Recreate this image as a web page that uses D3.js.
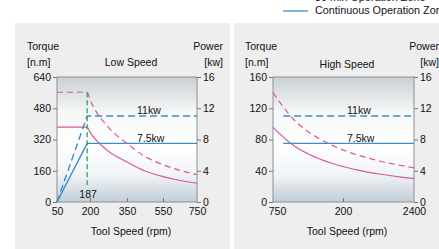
<!DOCTYPE html>
<html><head><meta charset="utf-8">
<script src="https://cdn.jsdelivr.net/npm/d3@7"></script>
<style>
html,body{margin:0;padding:0;background:#fff;overflow:hidden}
text{font-family:"Liberation Sans",Arial,Helvetica,sans-serif;fill:#111}
</style></head><body>
<svg id="c" width="439" height="249"></svg>
<script>
// ---------- data ----------
const lowTorqueTicks = [0,160,320,480,640];
const lowPowerTicks  = [0,4,8,12,16];
const lowSpeedTicks  = [50,200,350,550,750];
const highTorqueTicks = [0,40,80,120,160];
const highPowerTicks  = [0,4,8,12,16];
const highSpeedTicks  = [750,1575,2400];
const highSpeedLabels = ["750","200","2400"];

// Low speed: torque curves (rpm, N.m)
const lowS3Torque   = [[50,562],[187,562],[200,525],[275,382],[350,300],[450,233],[550,191],[650,162],[750,140]];
const lowContTorque = [[50,383],[187,383],[200,358],[275,260],[350,205],[450,159],[550,130],[650,110],[750,96]];
// Low speed: power lines (rpm, kW)
const lowS3Power    = [[50,0],[187,11],[750,11]];
const lowContPower  = [[50,0],[187,7.5],[750,7.5]];
const baseSpeed = 187;
const baseSpeedLineTorque = [562, 87];

// High speed
const highS3Torque   = [[750,140],[1000,105],[1250,84],[1500,70],[1750,60],[2000,52.5],[2250,46.7],[2400,43.8]];
const highContTorque = [[750,95.5],[1000,71.6],[1250,57.3],[1500,47.7],[1750,40.9],[2000,35.8],[2250,31.8],[2400,29.8]];
const highS3Power    = [[870,11],[2400,11]];
const highContPower  = [[870,7.5],[2400,7.5]];

const legendItems = ["30 min Operation Zone","Continuous Operation Zone"];

// ---------- drawing ----------
const PINK="#d9579f", BLUE="#3b8fc6", GREEN="#1f9a55";
const svg = d3.select("#c");
const defs = svg.append("defs");
const grad = defs.append("linearGradient").attr("id","bg").attr("x1",0).attr("y1",0).attr("x2",0).attr("y2",1);
[[0,"#c9d0d4"],[0.28,"#f6f7f7"],[0.55,"#ffffff"],[0.78,"#f1f4f6"],[1,"#c1cdd7"]].forEach(s=>
  grad.append("stop").attr("offset",s[0]).attr("stop-color",s[1]));

// panels
svg.append("rect").attr("x",15).attr("y",23).attr("width",215).attr("height",240).attr("fill","#eeeeee");
svg.append("rect").attr("x",234).attr("y",23).attr("width",215).attr("height",240).attr("fill","#eeeeee");

// legend
const lg = svg.append("g");
lg.append("line").attr("x1",283).attr("x2",308).attr("y1",-2).attr("y2",-2).attr("stroke",PINK).attr("stroke-width",1.3).attr("stroke-dasharray","5,3");
lg.append("text").attr("x",315).attr("y",-2).attr("dominant-baseline","middle").style("font-size","10.8px").text(legendItems[0]);
lg.append("line").attr("x1",283).attr("x2",308).attr("y1",11).attr("y2",11).attr("stroke",BLUE).attr("stroke-width",1.3);
lg.append("text").attr("x",315).attr("y",11).attr("dominant-baseline","middle").style("font-size","10.8px").text(legendItems[1]);

function chart(o){
  const g = svg.append("g");
  const {x0,x1,y0,y1} = o;
  const x = d3.scaleLinear().domain(o.xDomain).range(o.xRange);
  const yT = d3.scaleLinear().domain([0,o.tMax]).range([y1,y0]);
  const yP = d3.scaleLinear().domain([0,16]).range([y1,y0]);
  g.append("rect").attr("x",x0).attr("y",y0).attr("width",x1-x0).attr("height",y1-y0)
    .attr("fill","url(#bg)").attr("stroke","#8a8f94").attr("stroke-width",1);

  const fs="10.5px";
  const ax = g.append("g").attr("transform",`translate(${x0},0)`)
    .call(d3.axisLeft(yT).tickValues(o.tTicks).tickSize(4).tickPadding(2));
  const ap = g.append("g").attr("transform",`translate(${x1},0)`)
    .call(d3.axisRight(yP).tickValues(o.pTicks).tickSize(4).tickPadding(2));
  const ab = g.append("g").attr("transform",`translate(0,${y1})`)
    .call(d3.axisBottom(x).tickValues(o.sTicks).tickFormat((d,i)=>o.sLabels?o.sLabels[i]:d).tickSize(-4).tickPadding(6));
  [ax,ap,ab].forEach(a=>{
    a.select(".domain").remove();
    a.selectAll("line").attr("stroke","#777");
    a.selectAll("text").style("font-size",fs).attr("fill","#111");
  });
  ab.selectAll(".tick").filter((d,i)=>i===0||i===o.sTicks.length-1).select("line").remove();
  if(o.firstDx) ab.selectAll(".tick text").filter((d,i)=>i===0).attr("dx",o.firstDx);

  // titles
  g.append("text").attr("x",o.lx).attr("y",50).style("font-size",fs).text("Torque");
  g.append("text").attr("x",o.lx).attr("y",66).style("font-size",fs).text("[n.m]");
  g.append("text").attr("x",o.rx).attr("y",50).attr("text-anchor","end").style("font-size",fs).text("Power");
  g.append("text").attr("x",o.rx).attr("y",66).attr("text-anchor","end").style("font-size",fs).text("[kw]");
  g.append("text").attr("x",o.cx).attr("y",o.titleY).attr("text-anchor","middle").style("font-size",fs).text(o.title);
  g.append("text").attr("x",o.cx).attr("y",235).attr("text-anchor","middle").style("font-size",fs).text("Tool Speed (rpm)");

  const lineT = d3.line().x(d=>x(d[0])).y(d=>yT(d[1])).curve(d3.curveMonotoneX);
  const lineP = d3.line().x(d=>x(d[0])).y(d=>yP(d[1]));
  const pl = g.append("g");
  pl.append("path").attr("d",lineT(o.s3T)).attr("fill","none").attr("stroke",PINK).attr("stroke-width",1.2).attr("stroke-dasharray","6,4");
  pl.append("path").attr("d",lineT(o.cT)).attr("fill","none").attr("stroke",PINK).attr("stroke-width",1.2);
  pl.append("path").attr("d",lineP(o.s3P)).attr("fill","none").attr("stroke",BLUE).attr("stroke-width",1.4).attr("stroke-dasharray","7,4");
  pl.append("path").attr("d",lineP(o.cP)).attr("fill","none").attr("stroke",BLUE).attr("stroke-width",1.4);
  if(o.base){
    pl.append("line").attr("x1",x(o.base)).attr("x2",x(o.base))
      .attr("y1",yT(o.baseT[0])).attr("y2",yT(o.baseT[1]))
      .attr("stroke",GREEN).attr("stroke-width",1.2).attr("stroke-dasharray","5,3");
    g.append("text").attr("x",x(o.base)+1).attr("y",198).attr("text-anchor","middle").style("font-size",fs).text(String(o.base));
  }
  g.append("text").attr("x",o.kwX).attr("y",yP(11)-2).style("font-size",fs).text("11kw");
  g.append("text").attr("x",o.kwX).attr("y",yP(7.5)-1.5).style("font-size",fs).text("7.5kw");
}

chart({x0:57,x1:197,y0:77,y1:202,xDomain:lowSpeedTicks,xRange:[57,90,127,163,197],tMax:640,
  tTicks:lowTorqueTicks,pTicks:lowPowerTicks,sTicks:lowSpeedTicks,
  s3T:lowS3Torque,cT:lowContTorque,s3P:lowS3Power,cP:lowContPower,
  base:baseSpeed,baseT:baseSpeedLineTorque,
  lx:27,rx:223,cx:131,titleY:66,title:"Low Speed",kwX:137});

chart({x0:273,x1:414,y0:77,y1:202,xDomain:highSpeedTicks,xRange:[273,343,414],tMax:160,
  tTicks:highTorqueTicks,pTicks:highPowerTicks,sTicks:highSpeedTicks,sLabels:highSpeedLabels,firstDx:4,
  s3T:highS3Torque,cT:highContTorque,s3P:highS3Power,cP:highContPower,
  lx:245,rx:439,cx:347,titleY:68,title:"High Speed",kwX:347});
</script>
</body></html>
